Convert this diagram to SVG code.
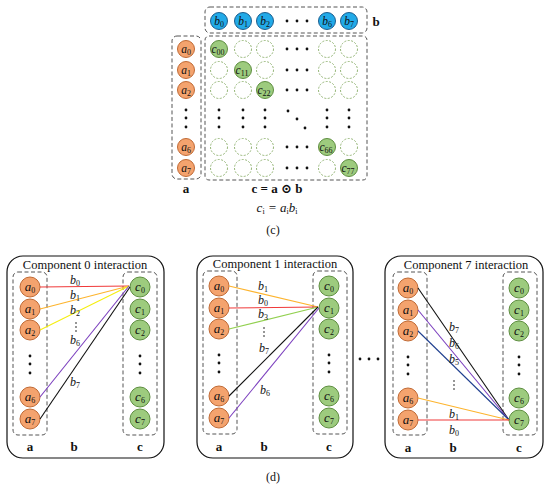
<svg xmlns="http://www.w3.org/2000/svg" width="550" height="487" viewBox="0 0 550 487">
<style>
text{font-family:"Liberation Serif","DejaVu Serif",serif;fill:#111}
.it{font-style:italic;font-size:13px;text-anchor:middle}
.lb{font-style:italic;font-size:12px;text-anchor:middle}
.its{font-style:italic;font-size:11.5px;text-anchor:middle}
.sub{font-size:8px;font-style:normal}
.bl{font-weight:bold;font-size:13px;text-anchor:middle}
.ttl{font-size:12.5px;text-anchor:middle}
.cap{font-size:12px;text-anchor:middle}
.box{fill:none;stroke:#555;stroke-width:1;stroke-dasharray:4 2.5}
.panel{fill:#fff;stroke:#111;stroke-width:1.2}
.ca{fill:#F4A36E;stroke:#C06A35;stroke-width:1}
.cb{fill:#22AAE8;stroke:#1C5E8E;stroke-width:1}
.cc{fill:#9DCB7E;stroke:#5E8E40;stroke-width:1}
.ce{fill:none;stroke:#8AAE6A;stroke-width:0.9;stroke-dasharray:2 1.5}
.dot{fill:#111}
.ln{fill:none;stroke-width:1.1}
</style>
<defs>
<g id="hd"><circle cx="-10" cy="0" r="1.4"/><circle cx="0" cy="0" r="1.4"/><circle cx="10" cy="0" r="1.4"/></g>
<g id="vd"><circle cx="0" cy="-8" r="1.4"/><circle cx="0" cy="0" r="1.4"/><circle cx="0" cy="9" r="1.4"/></g>
<g id="sd"><circle cx="0" cy="-4" r="0.8"/><circle cx="0" cy="0" r="0.8"/><circle cx="0" cy="4" r="0.8"/></g>
</defs>

<g id="c-section">
<g id="b-vector">
<rect class="box" x="205" y="7" width="162" height="26" rx="5"/>
<circle class="cb" cx="219" cy="21" r="8.5"/><text class="its" x="219" y="25">b<tspan class="sub" dy="2">0</tspan></text>
<circle class="cb" cx="243" cy="21" r="8.5"/><text class="its" x="243" y="25">b<tspan class="sub" dy="2">1</tspan></text>
<circle class="cb" cx="265" cy="21" r="8.5"/><text class="its" x="265" y="25">b<tspan class="sub" dy="2">2</tspan></text>
<use href="#hd" x="297" y="21" class="dot"/>
<circle class="cb" cx="327" cy="21" r="8.5"/><text class="its" x="327" y="25">b<tspan class="sub" dy="2">6</tspan></text>
<circle class="cb" cx="349" cy="21" r="8.5"/><text class="its" x="349" y="25">b<tspan class="sub" dy="2">7</tspan></text>
<text class="bl" x="376" y="26">b</text>
</g>
<g id="a-vector">
<rect class="box" x="172" y="36" width="29" height="143" rx="5"/>
<circle class="ca" cx="186" cy="49" r="8.5"/><text class="its" x="186" y="53">a<tspan class="sub" dy="2">0</tspan></text>
<circle class="ca" cx="186" cy="70" r="8.5"/><text class="its" x="186" y="74">a<tspan class="sub" dy="2">1</tspan></text>
<circle class="ca" cx="186" cy="90" r="8.5"/><text class="its" x="186" y="94">a<tspan class="sub" dy="2">2</tspan></text>
<use href="#vd" x="186" y="118" class="dot"/>
<circle class="ca" cx="186" cy="147" r="8.5"/><text class="its" x="186" y="151">a<tspan class="sub" dy="2">6</tspan></text>
<circle class="ca" cx="186" cy="168" r="8.5"/><text class="its" x="186" y="172">a<tspan class="sub" dy="2">7</tspan></text>
<text class="bl" x="186" y="193">a</text>
</g>
<g id="c-matrix">
<rect class="box" x="205" y="36" width="162" height="144" rx="4"/>
<circle class="cc" cx="219" cy="49" r="8.5"/><text class="its" x="218" y="53">c<tspan class="sub" dy="2">00</tspan></text>
<circle class="ce" cx="243" cy="49" r="8.5"/><circle class="ce" cx="265" cy="49" r="8.5"/>
<use href="#hd" x="297" y="49" class="dot"/>
<circle class="ce" cx="327" cy="49" r="8.5"/><circle class="ce" cx="349" cy="49" r="8.5"/>
<circle class="ce" cx="219" cy="70" r="8.5"/>
<circle class="cc" cx="243" cy="70" r="8.5"/><text class="its" x="242" y="74">c<tspan class="sub" dy="2">11</tspan></text>
<circle class="ce" cx="265" cy="70" r="8.5"/>
<use href="#hd" x="297" y="70" class="dot"/>
<circle class="ce" cx="327" cy="70" r="8.5"/><circle class="ce" cx="349" cy="70" r="8.5"/>
<circle class="ce" cx="219" cy="90" r="8.5"/><circle class="ce" cx="243" cy="90" r="8.5"/>
<circle class="cc" cx="265" cy="90" r="8.5"/><text class="its" x="264" y="94">c<tspan class="sub" dy="2">22</tspan></text>
<use href="#hd" x="297" y="90" class="dot"/>
<circle class="ce" cx="327" cy="90" r="8.5"/><circle class="ce" cx="349" cy="90" r="8.5"/>
<use href="#vd" x="219" y="118" class="dot"/>
<use href="#vd" x="243" y="118" class="dot"/>
<use href="#vd" x="265" y="118" class="dot"/>
<circle class="dot" cx="288" cy="111" r="1.4"/><circle class="dot" cx="297" cy="119" r="1.4"/><circle class="dot" cx="305" cy="128" r="1.4"/>
<use href="#vd" x="327" y="118" class="dot"/>
<use href="#vd" x="349" y="118" class="dot"/>
<circle class="ce" cx="219" cy="147" r="8.5"/><circle class="ce" cx="243" cy="147" r="8.5"/><circle class="ce" cx="265" cy="147" r="8.5"/>
<use href="#hd" x="297" y="147" class="dot"/>
<circle class="cc" cx="327" cy="147" r="8.5"/><text class="its" x="326" y="151">c<tspan class="sub" dy="2">66</tspan></text>
<circle class="ce" cx="349" cy="147" r="8.5"/>
<circle class="ce" cx="219" cy="168" r="8.5"/><circle class="ce" cx="243" cy="168" r="8.5"/><circle class="ce" cx="265" cy="168" r="8.5"/>
<use href="#hd" x="297" y="168" class="dot"/>
<circle class="ce" cx="327" cy="168" r="8.5"/>
<circle class="cc" cx="349" cy="168" r="8.5"/><text class="its" x="348" y="172">c<tspan class="sub" dy="2">77</tspan></text>
</g>
<text class="bl" x="277" y="193">c = a ⊙ b</text>
<text class="it" x="277" y="212">c<tspan class="sub" dy="2">i</tspan><tspan dy="-2"> = a</tspan><tspan class="sub" dy="2">i</tspan><tspan dy="-2">b</tspan><tspan class="sub" dy="2">i</tspan></text>
<text class="cap" x="273" y="234">(c)</text>
</g>

<g id="panel0">
<rect class="panel" x="7" y="256" width="157" height="202" rx="16"/>
<text class="ttl" x="85" y="269">Component 0 interaction</text>
<rect class="box" x="13" y="272" width="34" height="163" rx="5"/>
<rect class="box" x="123" y="272" width="34" height="163" rx="5"/>
<circle class="ca" cx="30" cy="287" r="10"/><text class="it" x="30" y="291">a<tspan class="sub" dy="2">0</tspan></text>
<circle class="ca" cx="30" cy="309" r="10"/><text class="it" x="30" y="313">a<tspan class="sub" dy="2">1</tspan></text>
<circle class="ca" cx="30" cy="330" r="10"/><text class="it" x="30" y="334">a<tspan class="sub" dy="2">2</tspan></text>
<use href="#vd" x="30" y="364" class="dot"/>
<circle class="ca" cx="30" cy="397" r="10"/><text class="it" x="30" y="401">a<tspan class="sub" dy="2">6</tspan></text>
<circle class="ca" cx="30" cy="419" r="10"/><text class="it" x="30" y="423">a<tspan class="sub" dy="2">7</tspan></text>
<circle class="cc" cx="140" cy="287" r="10"/><text class="it" x="140" y="291">c<tspan class="sub" dy="2">0</tspan></text>
<circle class="cc" cx="140" cy="309" r="10"/><text class="it" x="140" y="313">c<tspan class="sub" dy="2">1</tspan></text>
<circle class="cc" cx="140" cy="330" r="10"/><text class="it" x="140" y="334">c<tspan class="sub" dy="2">2</tspan></text>
<use href="#vd" x="140" y="364" class="dot"/>
<circle class="cc" cx="140" cy="397" r="10"/><text class="it" x="140" y="401">c<tspan class="sub" dy="2">6</tspan></text>
<circle class="cc" cx="140" cy="419" r="10"/><text class="it" x="140" y="423">c<tspan class="sub" dy="2">7</tspan></text>
<text class="bl" x="30" y="451">a</text><text class="bl" x="74" y="451">b</text><text class="bl" x="140" y="451">c</text>
</g>

<g id="panel1">
<rect class="panel" x="197" y="256" width="156" height="202" rx="16"/>
<text class="ttl" x="275" y="268">Component 1 interaction</text>
<rect class="box" x="203" y="271" width="34" height="163" rx="5"/>
<rect class="box" x="313" y="271" width="34" height="163" rx="5"/>
<circle class="ca" cx="219" cy="286" r="10"/><text class="it" x="219" y="290">a<tspan class="sub" dy="2">0</tspan></text>
<circle class="ca" cx="219" cy="308" r="10"/><text class="it" x="219" y="312">a<tspan class="sub" dy="2">1</tspan></text>
<circle class="ca" cx="219" cy="329" r="10"/><text class="it" x="219" y="333">a<tspan class="sub" dy="2">2</tspan></text>
<use href="#vd" x="219" y="363" class="dot"/>
<circle class="ca" cx="219" cy="396" r="10"/><text class="it" x="219" y="400">a<tspan class="sub" dy="2">6</tspan></text>
<circle class="ca" cx="219" cy="418" r="10"/><text class="it" x="219" y="422">a<tspan class="sub" dy="2">7</tspan></text>
<circle class="cc" cx="329" cy="286" r="10"/><text class="it" x="329" y="290">c<tspan class="sub" dy="2">0</tspan></text>
<circle class="cc" cx="329" cy="308" r="10"/><text class="it" x="329" y="312">c<tspan class="sub" dy="2">1</tspan></text>
<circle class="cc" cx="329" cy="329" r="10"/><text class="it" x="329" y="333">c<tspan class="sub" dy="2">2</tspan></text>
<use href="#vd" x="329" y="363" class="dot"/>
<circle class="cc" cx="329" cy="396" r="10"/><text class="it" x="329" y="400">c<tspan class="sub" dy="2">6</tspan></text>
<circle class="cc" cx="329" cy="418" r="10"/><text class="it" x="329" y="422">c<tspan class="sub" dy="2">7</tspan></text>
<text class="bl" x="219" y="451">a</text><text class="bl" x="264" y="451">b</text><text class="bl" x="329" y="451">c</text>
</g>

<g id="ellipsis" class="dot"><circle cx="360" cy="359" r="1.4"/><circle cx="369" cy="359" r="1.4"/><circle cx="378" cy="359" r="1.4"/></g>

<g id="panel7">
<rect class="panel" x="385" y="256" width="158" height="202" rx="16"/>
<text class="ttl" x="466" y="269">Component 7 interaction</text>
<rect class="box" x="393" y="272" width="34" height="163" rx="5"/>
<rect class="box" x="503" y="272" width="34" height="163" rx="5"/>
<circle class="ca" cx="408" cy="288" r="10"/><text class="it" x="408" y="292">a<tspan class="sub" dy="2">0</tspan></text>
<circle class="ca" cx="408" cy="310" r="10"/><text class="it" x="408" y="314">a<tspan class="sub" dy="2">1</tspan></text>
<circle class="ca" cx="408" cy="331" r="10"/><text class="it" x="408" y="335">a<tspan class="sub" dy="2">2</tspan></text>
<use href="#vd" x="408" y="365" class="dot"/>
<circle class="ca" cx="408" cy="398" r="10"/><text class="it" x="408" y="402">a<tspan class="sub" dy="2">6</tspan></text>
<circle class="ca" cx="408" cy="420" r="10"/><text class="it" x="408" y="424">a<tspan class="sub" dy="2">7</tspan></text>
<circle class="cc" cx="519" cy="288" r="10"/><text class="it" x="519" y="292">c<tspan class="sub" dy="2">0</tspan></text>
<circle class="cc" cx="519" cy="310" r="10"/><text class="it" x="519" y="314">c<tspan class="sub" dy="2">1</tspan></text>
<circle class="cc" cx="519" cy="331" r="10"/><text class="it" x="519" y="335">c<tspan class="sub" dy="2">2</tspan></text>
<use href="#vd" x="519" y="365" class="dot"/>
<circle class="cc" cx="519" cy="398" r="10"/><text class="it" x="519" y="402">c<tspan class="sub" dy="2">6</tspan></text>
<circle class="cc" cx="519" cy="420" r="10"/><text class="it" x="519" y="424">c<tspan class="sub" dy="2">7</tspan></text>
<text class="bl" x="408" y="452">a</text><text class="bl" x="453" y="452">b</text><text class="bl" x="519" y="452">c</text>
</g>

<g id="connectors">
<line class="ln" stroke="#F03A3A" x1="40" y1="287" x2="129" y2="286"/>
<line class="ln" stroke="#FDB42E" x1="40" y1="309" x2="129" y2="286"/>
<line class="ln" stroke="#F5EE10" x1="40" y1="330" x2="129" y2="286"/>
<line class="ln" stroke="#7B3FBE" x1="40" y1="397" x2="129" y2="286"/>
<line class="ln" stroke="#111" x1="40" y1="419" x2="130" y2="287"/>

<line class="ln" stroke="#FDB42E" x1="229" y1="286" x2="318" y2="307"/>
<line class="ln" stroke="#F03A3A" x1="229" y1="308" x2="318" y2="307"/>
<line class="ln" stroke="#92D050" x1="229" y1="329" x2="318" y2="307"/>
<line class="ln" stroke="#111" x1="229" y1="396" x2="318" y2="307"/>
<line class="ln" stroke="#7B3FBE" x1="229" y1="418" x2="319" y2="308"/>

<line class="ln" stroke="#111" x1="418" y1="288" x2="509" y2="420"/>
<line class="ln" stroke="#7B3FBE" x1="418" y1="310" x2="509" y2="420"/>
<line class="ln" stroke="#1F3F8F" x1="418" y1="331" x2="509" y2="420"/>
<line class="ln" stroke="#FDB42E" x1="418" y1="398" x2="509" y2="420"/>
<line class="ln" stroke="#F03A3A" x1="418" y1="420" x2="509" y2="420"/>
</g>

<g id="connector-labels">
<text class="lb" x="75" y="284">b<tspan class="sub" dy="1.5">0</tspan></text>
<text class="lb" x="75" y="299">b<tspan class="sub" dy="1.5">1</tspan></text>
<text class="lb" x="75" y="314">b<tspan class="sub" dy="1.5">2</tspan></text>
<use href="#sd" x="76" y="327" class="dot"/>
<text class="lb" x="75" y="344">b<tspan class="sub" dy="1.5">6</tspan></text>
<text class="lb" x="75" y="386">b<tspan class="sub" dy="1.5">7</tspan></text>

<text class="lb" x="263" y="290">b<tspan class="sub" dy="1.5">1</tspan></text>
<text class="lb" x="263" y="304">b<tspan class="sub" dy="1.5">0</tspan></text>
<text class="lb" x="263" y="318">b<tspan class="sub" dy="1.5">3</tspan></text>
<use href="#sd" x="264" y="332" class="dot"/>
<text class="lb" x="264" y="352">b<tspan class="sub" dy="1.5">7</tspan></text>
<text class="lb" x="265" y="394">b<tspan class="sub" dy="1.5">6</tspan></text>

<text class="lb" x="454" y="331">b<tspan class="sub" dy="1.5">7</tspan></text>
<text class="lb" x="454" y="347">b<tspan class="sub" dy="1.5">6</tspan></text>
<text class="lb" x="454" y="363">b<tspan class="sub" dy="1.5">5</tspan></text>
<use href="#sd" x="454" y="385" class="dot"/>
<text class="lb" x="454" y="418">b<tspan class="sub" dy="1.5">1</tspan></text>
<text class="lb" x="454" y="434">b<tspan class="sub" dy="1.5">0</tspan></text>
</g>

<text class="cap" x="273" y="481">(d)</text>
</svg>
